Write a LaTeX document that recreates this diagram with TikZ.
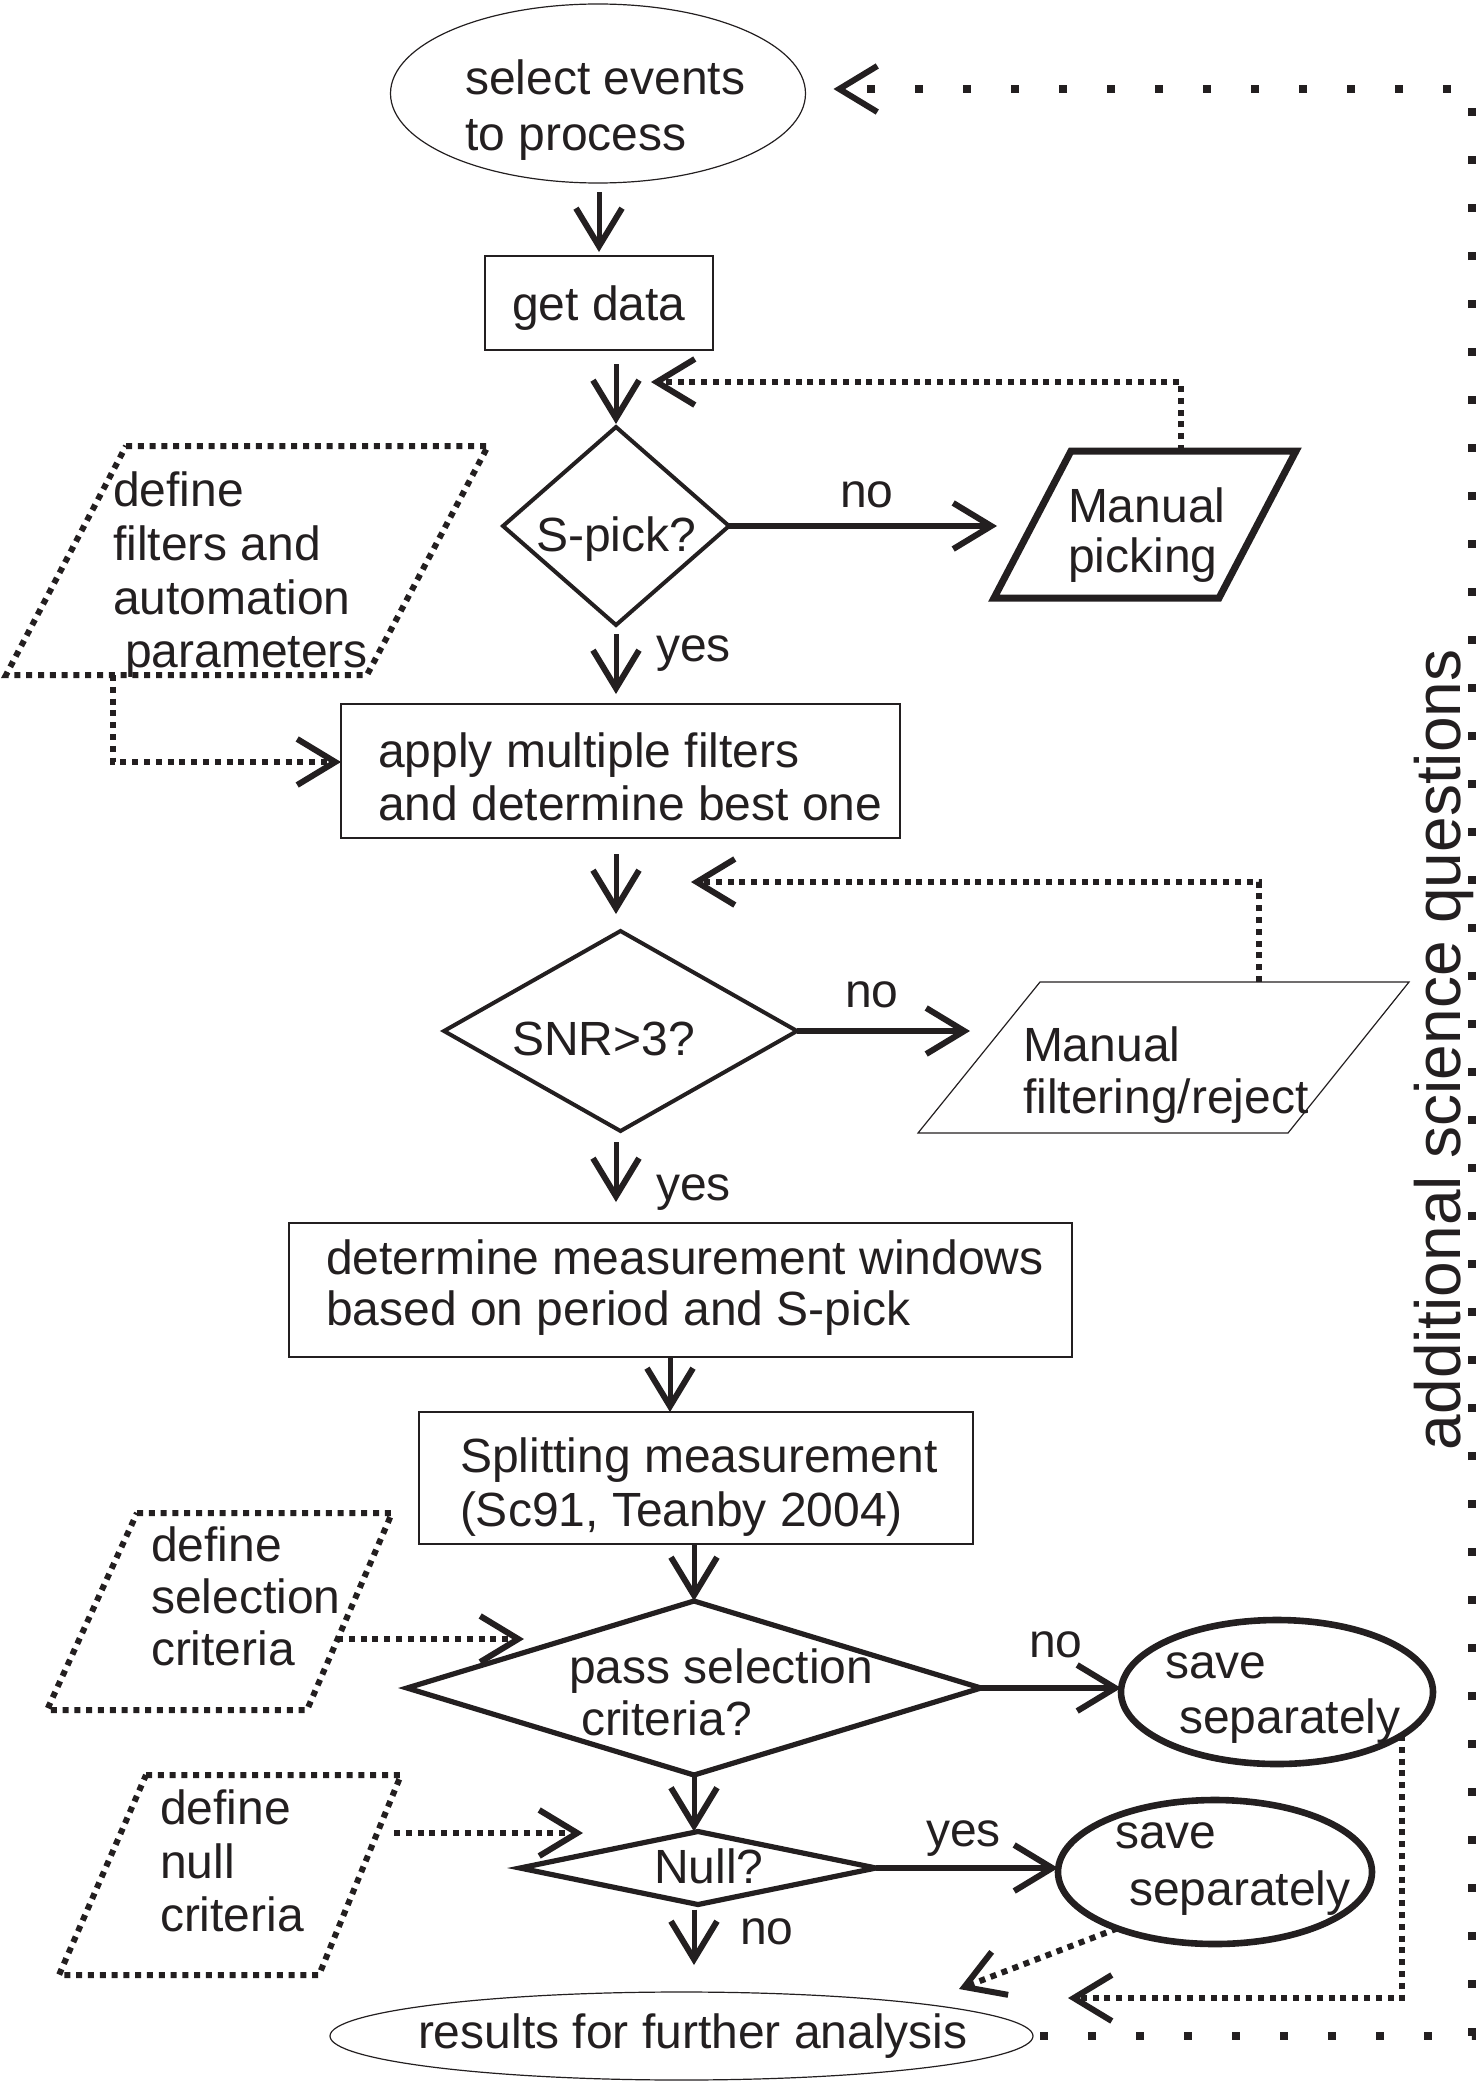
\documentclass[tikz,border=0pt]{standalone}
\usepackage{fontspec}
\setmainfont{Liberation Sans}
\usetikzlibrary{arrows.meta,shapes.geometric}
\definecolor{ink}{RGB}{35,31,32}
\begin{document}
\begin{tikzpicture}[x=0.5pt,y=-0.5pt,
  every node/.style={inner sep=0pt, outer sep=0pt},
  txt/.style={anchor=base west, text=ink, font=\fontsize{24}{28}\selectfont},
  vtxt/.style={anchor=base west, text=ink, rotate=90, font=\fontsize{32}{36}\selectfont},
  thinbox/.style={draw=ink, line width=0.6pt, rectangle},
  thinell/.style={draw=ink, line width=0.6pt, ellipse},
  thickell/.style={draw=ink, line width=3.3pt, ellipse},
  dec/.style={draw=ink, diamond, line width=2pt},
  decb/.style={draw=ink, diamond, line width=2.6pt},
  barb/.style={-{Straight Barb[length=19pt,width=23pt,line width=3pt]}},
  mainarr/.style={barb, draw=ink, line width=2.5pt},
  sidearr/.style={barb, draw=ink, line width=3.3pt},
  dotarr/.style={barb, draw=ink, line width=3pt, dash pattern=on 3pt off 2.9pt},
  dotbox/.style={draw=ink, line width=3pt, dash pattern=on 3pt off 2.9pt},
  sparse/.style={barb, draw=ink, line width=4pt, dash pattern=on 4pt off 20pt},
  thickpar/.style={draw=ink, line width=3.5pt, line join=miter},
  thinpar/.style={draw=ink, line width=0.6pt, line join=miter},
]
\useasboundingbox (0,0) rectangle (1480,2082);

% ---------- main shapes ----------
\node[thinell, minimum width=207.5pt, minimum height=89.5pt] (sel) at (598,93.5) {};
\node[thinbox, minimum width=114pt, minimum height=47pt] (get) at (599,303) {};
\node[dec, minimum width=113pt, minimum height=99pt] (spick) at (616,526) {};
\node[thinbox, minimum width=279.5pt, minimum height=67pt] (apply) at (620.5,771) {};
\node[dec, minimum width=176.5pt, minimum height=100pt] (snr) at (620.5,1031) {};
\node[thinbox, minimum width=391.5pt, minimum height=67pt] (det) at (680.5,1290) {};
\node[thinbox, minimum width=277pt, minimum height=66pt] (split) at (696,1478) {};
\node[decb, minimum width=287pt, minimum height=87pt] (pass) at (694,1688) {};
\node[thickell, minimum width=156pt, minimum height=72pt] (save1) at (1277,1692) {};
\node[decb, minimum width=178pt, minimum height=36.5pt] (null) at (698,1868) {};
\node[thickell, minimum width=157pt, minimum height=72pt] (save2) at (1215,1872) {};
\node[thinell, minimum width=351.5pt, minimum height=44pt] (res) at (681.5,2036) {};

% parallelograms
\draw[thickpar] (1071,451) -- (1296,451) -- (1219,598) -- (994,598) -- cycle;
\draw[thinpar] (1040,982) -- (1409,982) -- (1288,1133) -- (918,1133) -- cycle;
\draw[dotbox] (126,446) -- (488,446) -- (367,675) -- (6,675) -- cycle;
\draw[dotbox] (137,1513) -- (392,1513) -- (307,1710) -- (47,1710) -- cycle;
\draw[dotbox] (146,1775) -- (401,1775) -- (319,1975) -- (59,1975) -- cycle;

% connection points on the parallelograms and free ends
\coordinate (mptop) at (1181,451);
\coordinate (mpin) at (997,522);
\coordinate (mftop) at (1259,982);
\coordinate (mfin) at (970,1033);
\coordinate (deffbot) at (113,675);
\coordinate (selout) at (337,1639);
\coordinate (selin) at (524,1639);
\coordinate (nullout) at (394,1833);
\coordinate (nullin) at (583,1833);
\coordinate (spickfb) at (651,382);
\coordinate (snrfb) at (691,882);
\coordinate (res1in) at (1068,1998);
\coordinate (res2in) at (959,1989);
\coordinate (looptr) at (1472,89);

% ---------- texts ----------
\node[txt] at (465,95) {select events};
\node[txt] at (465,150) {to process};
\node[txt] at (512,320) {get data};
\node[txt] at (536,551) {S-pick?};
\node[txt] at (840,507) {no};
\node[txt] at (1068,522) {Manual};
\node[txt] at (1068,572) {picking};
\node[txt] at (656,661) {yes};
\node[txt] at (113,506) {define};
\node[txt] at (113,560) {filters and};
\node[txt] at (113,614) {automation};
\node[txt] at (125,667) {parameters};
\node[txt] at (378,767) {apply multiple filters};
\node[txt] at (378,820) {and determine best one};
\node[txt] at (512,1055) {SNR>3?};
\node[txt] at (845,1007) {no};
\node[txt] at (1023,1061) {Manual};
\node[txt] at (1023,1113) {filtering/reject};
\node[txt] at (656,1200) {yes};
\node[txt] at (326,1274) {determine measurement windows};
\node[txt] at (326,1325) {based on period and S-pick};
\node[txt] at (460,1472) {Splitting measurement};
\node[txt] at (460,1526) {(Sc91, Teanby 2004)};
\node[txt] at (151,1561) {define};
\node[txt] at (151,1613) {selection};
\node[txt] at (151,1665) {criteria};
\node[txt] at (569,1683) {pass selection};
\node[txt] at (581,1735) {criteria?};
\node[txt] at (1029,1657) {no};
\node[txt] at (1165,1678) {save};
\node[txt] at (1179,1733) {separately};
\node[txt] at (160,1824) {define};
\node[txt] at (160,1878) {null};
\node[txt] at (160,1931) {criteria};
\node[txt] at (654,1883) {Null?};
\node[txt] at (926,1846) {yes};
\node[txt] at (1115,1848) {save};
\node[txt] at (1129,1905) {separately};
\node[txt] at (740,1944) {no};
\node[txt] at (418,2048) {results for further analysis};
\node[vtxt] at (1460,1450) {additional science questions};

% ---------- main flow arrows ----------
\draw[mainarr, shorten <=4.5pt, shorten >=2pt] (sel.south -| get.north) -- (get.north);
\draw[mainarr, shorten <=7pt, shorten >=1.5pt] (get.south -| spick.north) -- (spick.north);
\draw[mainarr, shorten <=4.5pt, shorten >=5pt] (spick.south) -- (spick.south |- apply.north);
\draw[mainarr, shorten <=8pt, shorten >=8.5pt] (apply.south -| spick.south) -- (snr.north -| spick.south);
\draw[mainarr, shorten <=5.5pt, shorten >=10.5pt] (snr.south -| spick.south) -- (det.north -| spick.south);
\draw[mainarr] ([xshift=-5.25pt]det.south) -- ([xshift=-5.25pt]det.south |- split.north);
\draw[mainarr] (split.south -| pass.north) -- (pass.north);
\draw[mainarr] (pass.south) -- (pass.south |- null.north);
\draw[mainarr, shorten <=2.5pt, shorten >=13.5pt] (null.south -| pass.south) -- (pass.south |- res.north);

% ---------- side arrows ----------
\draw[sidearr] (spick.east) -- (spick.east -| mpin);
\draw[sidearr] (snr.east) -- (snr.east -| mfin);
\draw[sidearr] (pass.east) -- (pass.east -| save1.west);
\draw[sidearr] (null.east) -- (null.east -| save2.west);

% ---------- dotted arrows ----------
\draw[dotarr] (mptop) |- (spickfb);
\draw[dotarr] (mftop) |- (snrfb);
\draw[dotarr] (deffbot) |- ([yshift=4.5pt]apply.west);
\draw[dotarr] (selout) -- (selin);
\draw[dotarr] (nullout) -- (nullin);
\draw[dotarr] (save2.210) -- (res2in);
\draw[dotarr] (save1.341) |- (res1in);
\draw[sparse, shorten <=3.5pt, shorten >=14pt] (res.east) -| (looptr) -- (sel.east |- looptr);
\end{tikzpicture}
\end{document}
